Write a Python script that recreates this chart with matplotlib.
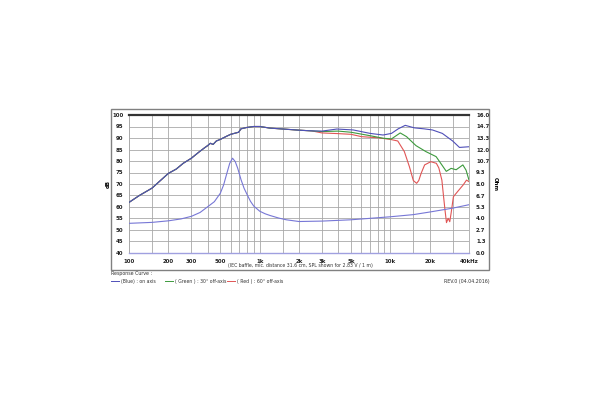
import matplotlib.pyplot as plt
import numpy as np
from matplotlib.patches import Rectangle

# shared SPL part (all three curves overlap below ~2.5 kHz)
low_freq = [100, 120, 150, 170, 200, 230, 260, 300, 345, 380, 400, 420, 440,
            466, 500, 560, 600, 690, 720, 800, 900, 1000, 1200, 1600, 2000, 2500]
low_db = [62.0, 65.0, 68.2, 71.0, 74.6, 76.5, 79.0, 81.2, 84.0, 85.8, 86.7, 87.7,
          87.2, 88.7, 89.4, 90.8, 91.6, 92.5, 94.0, 94.6, 95.0, 95.0, 94.3, 93.8,
          93.4, 93.1]

on_freq = [3000, 3900, 5200, 7000, 8800, 10200, 11500, 13000, 15300, 18000,
           21000, 25000, 30000, 33800, 40000]
on_db = [93.0, 93.9, 93.5, 92.0, 91.3, 92.0, 94.0, 95.5, 94.4, 94.0, 93.5,
         92.0, 88.7, 85.9, 86.2]

off30_freq = [3000, 4000, 5000, 7000, 8800, 10200, 11900, 13300, 15700, 18700,
              22400, 25000, 26800, 29200, 31900, 35900, 38000, 40000]
off30_db = [92.8, 93.0, 92.5, 91.0, 89.9, 89.6, 92.2, 90.6, 86.7, 84.1, 81.9,
            78.0, 75.5, 76.8, 76.2, 78.3, 76.0, 71.7]

off60_freq = [3000, 4000, 5000, 6000, 8000, 10000, 11400, 12800, 14000, 15000,
              15900, 16500, 17200, 18300, 20400, 22500, 23500, 24800, 25500,
              26200, 26900, 27700, 28500, 29200, 30400, 33500, 36100, 38300, 40000]
off60_db = [92.2, 91.9, 91.6, 90.6, 90.1, 89.4, 88.7, 84.1, 77.5, 71.5, 70.3,
            71.5, 74.6, 78.3, 79.7, 79.0, 77.0, 71.7, 65.0, 58.7, 53.2, 55.1,
            53.6, 57.4, 64.5, 67.4, 69.6, 71.7, 71.0]

imp_freq = [100, 150, 200, 250, 300, 350, 400, 450, 500, 530, 560, 590, 620,
            650, 680, 720, 760, 800, 850, 900, 1000, 1100, 1200, 1400, 1600,
            2000, 3000, 5000, 10000, 15000, 20000, 30000, 40000]
imp_ohm = [3.44, 3.55, 3.73, 3.95, 4.25, 4.7, 5.36, 5.95, 6.93, 7.9, 9.2, 10.4,
           10.99, 10.6, 9.8, 8.5, 7.5, 6.8, 6.0, 5.45, 4.85, 4.55, 4.35, 4.05,
           3.85, 3.65, 3.7, 3.85, 4.2, 4.45, 4.75, 5.2, 5.6]

x_ticks = [100, 200, 300, 500, 1000, 2000, 3000, 5000, 10000, 20000, 40000]
x_labels = ["100", "200", "300", "500", "1k", "2k", "3k", "5k", "10k", "20k", "40kHz"]
x_grid = [100, 150, 200, 300, 400, 500, 600, 700, 800, 900, 1000, 1500, 2000,
          3000, 4000, 5000, 6000, 7000, 8000, 9000, 10000, 15000, 20000, 30000, 40000]
db_ticks = list(range(40, 101, 5))
ohm_ticks = np.linspace(0, 16, 13)

BLUE = "#4f4fb8"
GREEN = "#3d9a3d"
RED = "#e05555"
IMP = "#7777d6"
FS = 3.9

fig = plt.figure(figsize=(6, 4), dpi=100)
fig.patches.append(Rectangle((111 / 600, 1 - 270 / 400), 378 / 600, 161 / 400,
                             transform=fig.transFigure, fill=False,
                             edgecolor="#808080", lw=1.0))

ax = fig.add_axes([129 / 600, 1 - 253 / 400, 340 / 600, 138 / 400])
ax.set_xscale("log")
ax.set_xlim(100, 40000)
ax.set_ylim(40, 100)

for f in x_grid:
    ax.axvline(f, color="#a8a8a8", lw=0.6, zorder=1)
for d in db_ticks:
    ax.axhline(d, color="#a8a8a8", lw=0.6, zorder=1)

ax.plot(low_freq + off60_freq, low_db + off60_db, color=RED, lw=0.8, zorder=3)
ax.plot(low_freq + off30_freq, low_db + off30_db, color=GREEN, lw=0.8, zorder=3)
ax.plot(low_freq + on_freq, low_db + on_db, color=BLUE, lw=0.8, zorder=4)

ax.set_xticks(x_ticks)
ax.set_xticklabels(x_labels)
ax.xaxis.set_minor_locator(plt.NullLocator())
ax.set_yticks(db_ticks)
ax.tick_params(length=0, labelsize=FS, pad=4, labelcolor="#222222")
for lab in ax.get_xticklabels() + ax.get_yticklabels():
    lab.set_fontweight("bold")
ax.set_ylabel("dB", fontsize=FS, fontweight="bold", labelpad=1)

for side in ["left", "right"]:
    ax.spines[side].set_color("#a8a8a8")
    ax.spines[side].set_linewidth(0.6)
ax.spines["top"].set_color("#333333")
ax.spines["top"].set_linewidth(1.6)
ax.spines["bottom"].set_color("#a0a0e0")
ax.spines["bottom"].set_linewidth(1.0)

ax2 = ax.twinx()
ax2.set_ylim(0, 16)
ax2.plot(imp_freq, imp_ohm, color=IMP, lw=0.8, zorder=3)
ax2.set_yticks(ohm_ticks)
ax2.set_yticklabels([f"{v:.1f}" for v in ohm_ticks])
ax2.tick_params(length=0, labelsize=FS, pad=5, labelcolor="#222222")
for lab in ax2.get_yticklabels():
    lab.set_fontweight("bold")
ax2.set_ylabel("Ohm", fontsize=FS, fontweight="bold", rotation=270, labelpad=6)
for sp in ax2.spines.values():
    sp.set_visible(False)

fig.text(300 / 600, 1 - 265 / 400,
         "(IEC baffle, mic. distance 31.6 cm, SPL shown for 2.83 V / 1 m)",
         fontsize=3.3, ha="center", va="center", color="#333333")

fig.text(111 / 600, 1 - 274 / 400, "Response Curve :", fontsize=3.4,
         ha="left", va="center", color="#333333")
fig.text(490 / 600, 1 - 281 / 400, "REV.0 (04.04.2016)", fontsize=3.4,
         ha="right", va="center", color="#333333")

legend_items = [(111, BLUE, "(Blue) : on axis"),
                (165, GREEN, "( Green ) : 30° off-axis"),
                (227, RED, "( Red ) : 60° off-axis")]
for x0, col, txt in legend_items:
    y = 1 - 281 / 400
    fig.add_artist(plt.Line2D([x0 / 600, (x0 + 8) / 600], [y, y],
                              transform=fig.transFigure, color=col, lw=0.7))
    fig.text((x0 + 10) / 600, y, txt, fontsize=3.3, ha="left", va="center",
             color="#333333")

fig.savefig("out.png", dpi=100, facecolor="white")
